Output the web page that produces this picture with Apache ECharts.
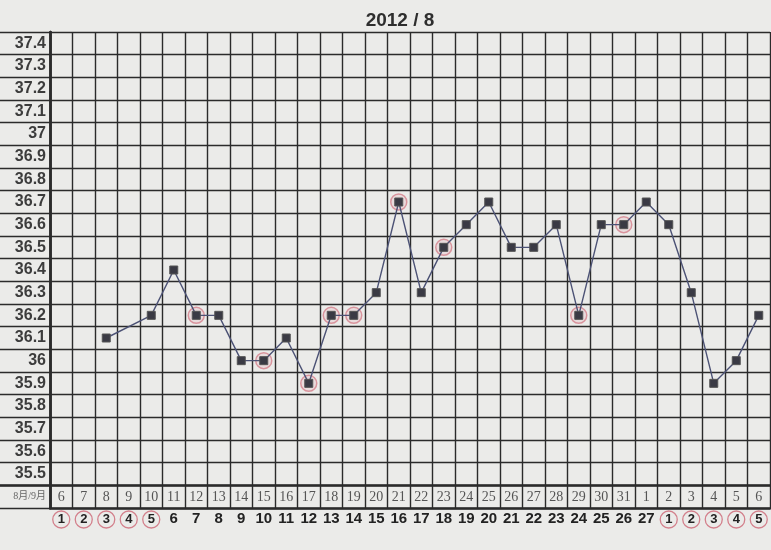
<!DOCTYPE html>
<html><head><meta charset="utf-8">
<script src="https://cdn.jsdelivr.net/npm/echarts@6/dist/echarts.min.js"></script>
<style>html,body{margin:0;padding:0;background:#ebebe9;}#c{width:771px;height:550px;}</style>
</head><body><div id="c"></div>
<script>
const titleText = '2012 / 8';
const dates = ['6','7','8','9','10','11','12','13','14','15','16','17','18','19','20','21','22','23','24','25','26','27','28','29','30','31','1','2','3','4','5','6'];
const cycleDays = ['1','2','3','4','5','6','7','8','9','10','11','12','13','14','15','16','17','18','19','20','21','22','23','24','25','26','27','1','2','3','4','5'];
const circledCycleIdx = [0,1,2,3,4,27,28,29,30,31];
const rowLabels = ['8月/9月','35.5','35.6','35.7','35.8','35.9','36','36.1','36.2','36.3','36.4','36.5','36.6','36.7','36.8','36.9','37','37.1','37.2','37.3','37.4'];
const temps = [null,null,36.1,null,36.2,36.4,36.2,36.2,36.0,36.0,36.1,35.9,36.2,36.2,36.3,36.7,36.3,36.5,36.6,36.7,36.5,36.5,36.6,36.2,36.6,36.6,36.7,36.6,36.3,35.9,36.0,36.2];
const circledIdx = [6,9,11,12,13,15,17,23,25];

const circledTemps = temps.map((v,i)=> circledIdx.includes(i) ? v : null);
const lineCol = '#2b2b2b';
const TOP = 32, BOTTOM = 42;
const chart = echarts.init(document.getElementById('c'));
chart.setOption({
  backgroundColor: '#ebebe9',
  animation: false,
  title: { text: titleText, left: 395, top: 6, textAlign: 'center',
    textStyle: { fontFamily: 'Liberation Sans, Arial', fontWeight: 'bold', fontSize: 19, color: '#2e2e2e' } },
  grid: [
    { left: 50, right: 1, top: TOP, bottom: BOTTOM },
    { left: 0, width: 50, top: TOP, bottom: BOTTOM },
    { left: 50, right: 1, top: TOP, bottom: BOTTOM },
    { left: 0, right: 1, top: TOP, bottom: BOTTOM + 22.67 }
  ],
  xAxis: [
    { type: 'category', gridIndex: 0, data: dates, boundaryGap: true, position: 'bottom',
      axisLine: { show: true, lineStyle: { color: lineCol, width: 2.5 } },
      axisTick: { show: false },
      axisLabel: { inside: true, margin: 4, interval: 0, fontFamily: 'Liberation Serif, Times New Roman, serif', fontSize: 14, color: '#555' },
      splitLine: { show: true, interval: 0, lineStyle: { color: lineCol, width: 1.4 } } },
    { type: 'category', gridIndex: 1, data: [''], show: false },
    { type: 'category', gridIndex: 2, data: cycleDays, boundaryGap: true, position: 'bottom',
      axisLine: { show: false }, axisTick: { show: false }, splitLine: { show: false },
      axisLabel: { margin: 3, interval: 0, fontFamily: 'Liberation Sans, Arial', fontWeight: 'bold', fontSize: 15, color: '#222',
        formatter: (v, i) => circledCycleIdx.includes(i) ? '{c|' + v + '}' : v,
        rich: { c: { width: 17, height: 17, lineHeight: 17, align: 'center', borderRadius: 10, borderColor: '#d3808c', borderWidth: 1.3,
          fontFamily: 'Liberation Sans, Arial', fontWeight: 'bold', fontSize: 13, color: '#222' } } } },
    { type: 'category', gridIndex: 3, data: [''], position: 'bottom',
      axisLine: { show: true, lineStyle: { color: lineCol, width: 2.5 } }, axisTick: { show: false }, axisLabel: { show: false } }
  ],
  yAxis: [
    { type: 'category', gridIndex: 0, data: rowLabels, boundaryGap: true, position: 'left',
      axisLine: { show: true, lineStyle: { color: lineCol, width: 2.5 } }, axisTick: { show: false }, axisLabel: { show: false },
      splitLine: { show: true, interval: 0, lineStyle: { color: lineCol, width: 1.4 } } },
    { type: 'value', gridIndex: 0, min: 35.35, max: 37.45, show: false, position: 'right' },
    { type: 'category', gridIndex: 1, data: rowLabels, boundaryGap: true, position: 'right',
      axisLine: { show: true, lineStyle: { color: lineCol, width: 2.5 } }, axisTick: { show: false },
      axisLabel: { inside: true, margin: 4, interval: 0,
        formatter: (v) => v === '8月/9月' ? '{d|' + v + '}' : '{b|' + v + '}',
        rich: { b: { fontFamily: 'Liberation Sans, Arial', fontWeight: 'bold', fontSize: 16, color: '#3c3c3c' },
                d: { fontFamily: 'Liberation Serif, Noto Sans CJK SC, serif', fontSize: 10, color: '#666' } } },
      splitLine: { show: true, interval: 0, lineStyle: { color: lineCol, width: 1.4 } } },
    { type: 'category', gridIndex: 2, data: rowLabels, show: false },
    { type: 'value', gridIndex: 3, show: false }
  ],
  series: [
    { type: 'scatter', xAxisIndex: 0, yAxisIndex: 1, data: circledTemps, symbol: 'circle', symbolSize: 16,
      itemStyle: { color: 'rgba(230,180,185,0.35)', borderColor: '#d47f8b', borderWidth: 1.5 }, z: 3 },
    { type: 'line', xAxisIndex: 0, yAxisIndex: 1, data: temps, connectNulls: true,
      lineStyle: { color: '#4c5275', width: 1.4 }, symbol: 'rect', symbolSize: 8,
      itemStyle: { color: '#3a3a44', borderColor: '#555', borderWidth: 1 }, z: 4 }
  ]
});
</script></body></html>
